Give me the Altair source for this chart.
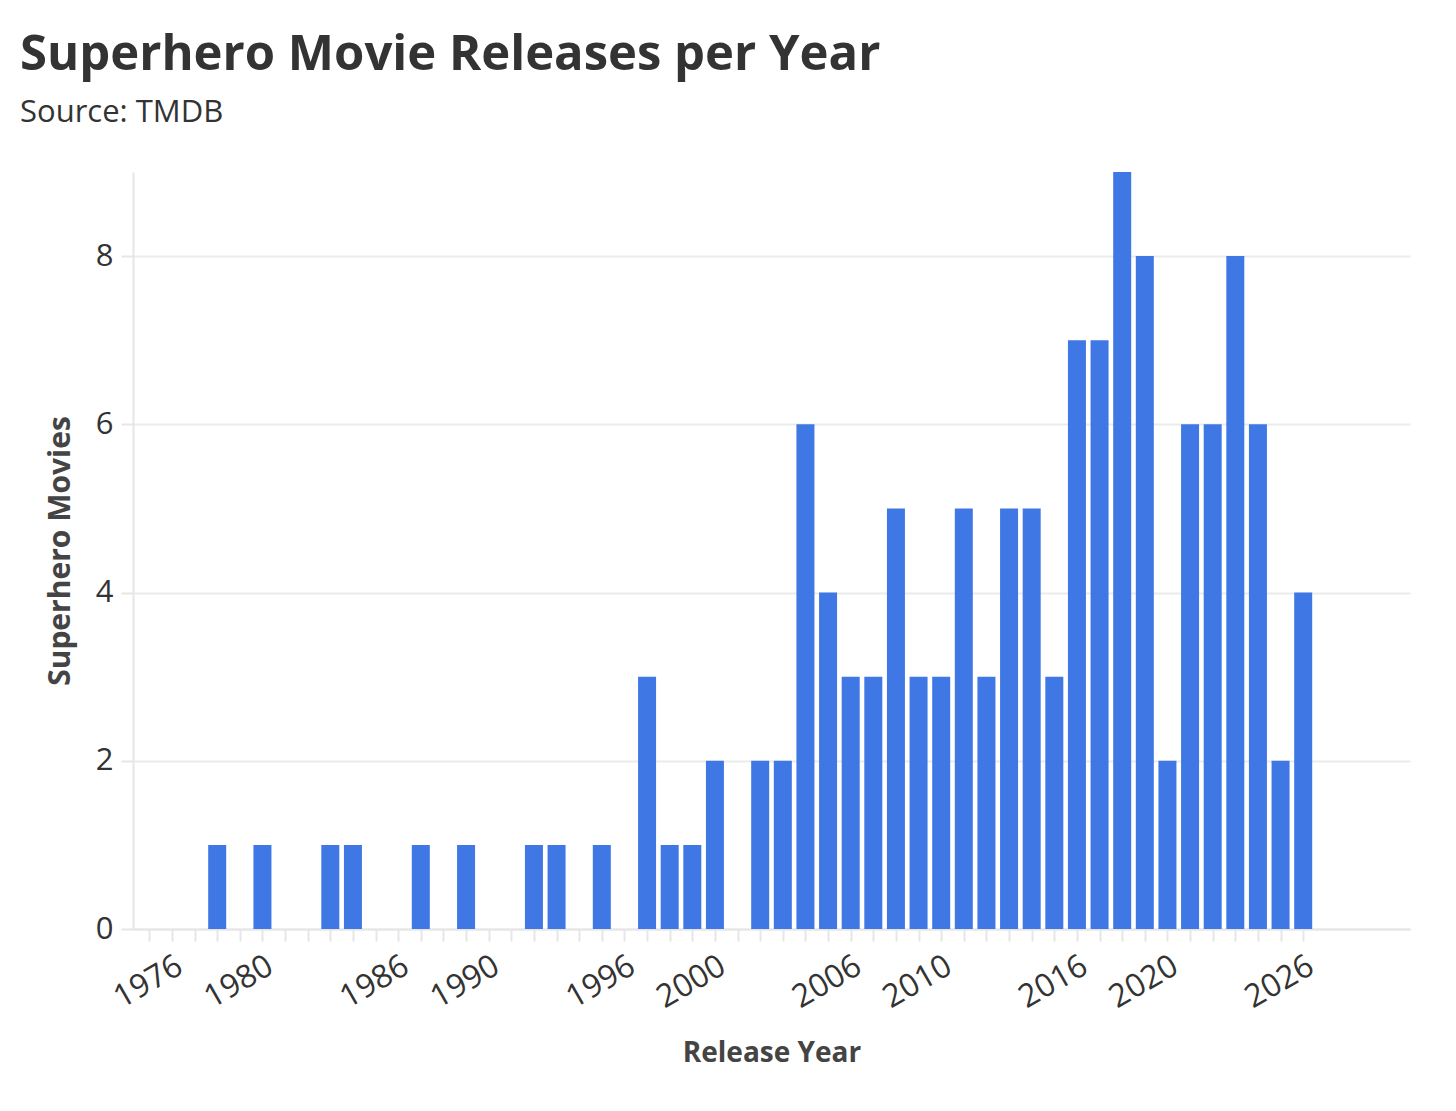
import altair as alt
import pandas as pd

years = [1978, 1980, 1983, 1984, 1987, 1989, 1992, 1993, 1995, 1997, 1998, 1999, 2000,
         2002, 2003, 2004, 2005, 2006, 2007, 2008, 2009, 2010, 2011, 2012, 2013, 2014,
         2015, 2016, 2017, 2018, 2019, 2020, 2021, 2022, 2023, 2024, 2025, 2026]
counts = [1, 1, 1, 1, 1, 1, 1, 1, 1, 3, 1, 1, 2,
          2, 2, 6, 4, 3, 3, 5, 3, 3, 5, 3, 5, 5,
          3, 7, 7, 9, 8, 2, 6, 6, 8, 6, 2, 4]
tick_years = list(range(1975, 2027))
label_years = [1976, 1980, 1986, 1990, 1996, 2000, 2006, 2010, 2016, 2020, 2026]
y_ticks = [0, 2, 4, 6, 8]

df = pd.DataFrame({"year": years, "count": counts})

FONT = "Open Sans"
label_list = ",".join(str(v) for v in label_years)

chart = alt.Chart(df).mark_bar(color="#3f78e4", size=18).encode(
    x=alt.X(
        "year:Q",
        scale=alt.Scale(domain=[1974.5, 2030.5], nice=False, zero=False),
        axis=alt.Axis(
            values=tick_years,
            format="d",
            labelExpr=f"indexof([{label_list}], datum.value) >= 0 ? datum.label : ''",
            labelOverlap=False,
            labelFlush=False,
            labelAngle=-30,
            labelFontSize=32,
            labelColor="#333333",
            labelPadding=9,
            title="Release Year",
            titleFontSize=28,
            titleFontWeight="bold",
            titleColor="#444444",
            titlePadding=26,
            grid=False,
            tickSize=12,
            tickColor="#e6e6e6",
            tickWidth=2,
            domainColor="#e6e6e6",
            domainWidth=2,
        ),
    ),
    y=alt.Y(
        "count:Q",
        scale=alt.Scale(domain=[0, 9], nice=False),
        axis=alt.Axis(
            values=y_ticks,
            format="d",
            labelFontSize=31,
            labelColor="#333333",
            labelPadding=8,
            title="Superhero Movies",
            titleFontSize=30,
            titleFontWeight="bold",
            titleColor="#444444",
            titlePadding=20,
            grid=True,
            gridColor="#ebebeb",
            gridWidth=2,
            tickSize=12,
            tickColor="#e6e6e6",
            tickWidth=2,
            domainColor="#e6e6e6",
            domainWidth=2,
        ),
    ),
).properties(
    width=1277,
    height=757,
    autosize=alt.AutoSizeParams(type="none"),
    padding={"left": 125, "top": 164, "right": 30, "bottom": 170},
    title=alt.TitleParams(
        text="Superhero Movie Releases per Year",
        subtitle="Source: TMDB",
        anchor="start",
        frame="group",
        dx=-113,
        offset=44,
        fontSize=49,
        fontWeight="bold",
        color="#333333",
        subtitleFontSize=31,
        subtitleColor="#333333",
        subtitlePadding=18,
        font=FONT,
        subtitleFont=FONT,
    ),
).configure(
    font=FONT,
).configure_axis(
    labelFont=FONT,
    titleFont=FONT,
).configure_view(stroke=None)

chart.save("out.html", embed_options={"renderer": "svg", "actions": False})
